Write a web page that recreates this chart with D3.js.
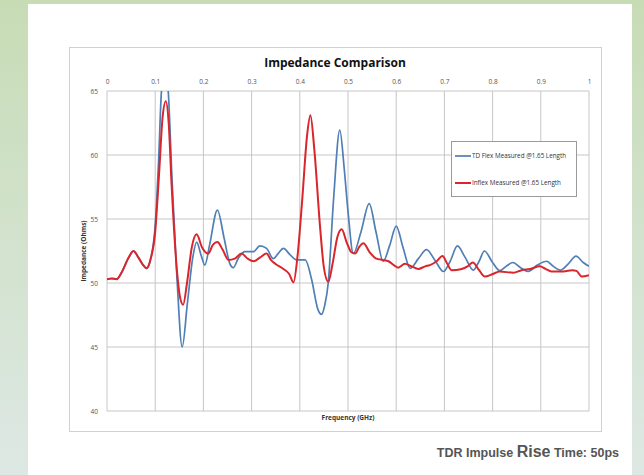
<!DOCTYPE html>
<meta charset="utf-8">
<head>
	<title>Impedance Comparison</title>
</head>
<style>
	body { margin: 0; background: #fff; }
	svg { display: block; }
	text { font-family: "Open Sans", "Liberation Sans", sans-serif; }
</style>
<body>
	<svg width="644" height="475"></svg>

	<script src="https://d3js.org/d3.v7.min.js"></script>
	<script>
// x tick labels (GHz) and y tick values (Ohms)
var xTicks = [0, 0.1, 0.2, 0.3, 0.4, 0.5, 0.6, 0.7, 0.8, 0.9, 1];
var yTicks = [40, 45, 50, 55, 60, 65];

// TD Flex measured trace
var blueFreq = [0.000, 0.010, 0.020, 0.030, 0.045, 0.055, 0.065, 0.075, 0.082, 0.090,
	0.100, 0.107, 0.113, 0.120, 0.127, 0.135, 0.145, 0.156, 0.167, 0.178,
	0.186, 0.195, 0.203, 0.213, 0.229, 0.243, 0.255, 0.262, 0.272, 0.286,
	0.304, 0.317, 0.331, 0.345, 0.355, 0.366, 0.380, 0.393, 0.411, 0.425,
	0.437, 0.445, 0.452, 0.459, 0.470, 0.483, 0.492, 0.500, 0.511, 0.527,
	0.544, 0.558, 0.573, 0.587, 0.600, 0.614, 0.629, 0.646, 0.663, 0.680,
	0.698, 0.712, 0.727, 0.743, 0.760, 0.772, 0.783, 0.800, 0.815, 0.828,
	0.842, 0.858, 0.874, 0.893, 0.912, 0.926, 0.940, 0.957, 0.973, 0.988, 1.000];
var blueZ = [50.3, 50.35, 50.3, 50.8, 52.0, 52.5, 52.0, 51.4, 51.15, 51.8,
	54.5, 59.5, 65.0, 66.8, 65.0, 58.0, 50.5, 45.0, 48.5, 52.0,
	53.2, 52.2, 51.4, 53.0, 55.7, 53.5, 51.5, 51.2, 51.9, 52.45,
	52.45, 52.9, 52.7, 51.9, 52.3, 52.7, 52.2, 51.8, 51.8, 50.2,
	48.0, 47.55, 48.3, 50.0, 56.5, 61.95, 59.0, 55.6, 52.3, 54.0,
	56.2, 54.0, 51.7, 53.0, 54.45, 52.8, 51.15, 51.9, 52.6, 51.8,
	50.9, 51.7, 52.9, 52.0, 51.0, 51.7, 52.5, 51.6, 50.96, 51.3,
	51.6, 51.2, 50.9, 51.4, 51.7, 51.3, 51.0, 51.5, 52.1, 51.6, 51.3];

// Inflex measured trace
var redFreq = [0.000, 0.010, 0.020, 0.030, 0.045, 0.055, 0.065, 0.075, 0.082, 0.090,
	0.100, 0.108, 0.115, 0.122, 0.128, 0.134, 0.145, 0.152, 0.158, 0.166,
	0.176, 0.186, 0.197, 0.210, 0.220, 0.229, 0.240, 0.252, 0.265, 0.279,
	0.292, 0.304, 0.318, 0.331, 0.340, 0.349, 0.366, 0.378, 0.387, 0.395,
	0.405, 0.415, 0.422, 0.430, 0.442, 0.450, 0.459, 0.468, 0.478, 0.487,
	0.497, 0.507, 0.515, 0.523, 0.532, 0.545, 0.559, 0.572, 0.584, 0.595,
	0.604, 0.618, 0.632, 0.646, 0.660, 0.670, 0.684, 0.696, 0.706, 0.715,
	0.736, 0.748, 0.759, 0.772, 0.784, 0.800, 0.815, 0.843, 0.860, 0.878,
	0.898, 0.910, 0.922, 0.947, 0.965, 0.974, 0.985, 1.000];
var redZ = [50.3, 50.35, 50.3, 50.8, 52.0, 52.5, 52.0, 51.4, 51.15, 51.8,
	54.0, 58.5, 62.8, 64.2, 62.5, 57.7, 51.0, 48.8, 48.3, 50.0,
	52.8, 53.8, 52.8, 52.3, 53.0, 53.2, 52.6, 51.8, 51.9, 52.3,
	51.9, 51.7, 52.0, 52.3, 51.8, 51.5, 51.1, 50.7, 50.05, 52.0,
	56.5, 61.5, 63.1, 60.5, 54.4, 51.2, 50.1, 51.5, 53.6, 54.2,
	53.2, 52.4, 52.3, 52.8, 53.1, 52.4, 51.9, 51.8, 51.7, 51.4,
	51.2, 51.5, 51.3, 51.1, 51.3, 51.4, 51.7, 52.1, 51.5, 51.0,
	51.1, 51.3, 51.6, 51.0, 50.5, 50.7, 50.9, 50.8, 51.0, 51.1,
	51.3, 51.1, 50.9, 50.9, 51.0, 50.95, 50.5, 50.6];

var seriesNames = ["TD Flex Measured @1.65 Length", "Inflex Measured @1.65 Length"];
var seriesColors = ["#4f7fb4", "#d9252b"];

var svg = d3.select('svg');

// slide background
var defs = svg.append('defs');
var lg = defs.append('linearGradient').attr('id', 'side').attr('x1', 0).attr('y1', 0).attr('x2', 0).attr('y2', 1);
lg.append('stop').attr('offset', 0).attr('stop-color', '#c7dcb5');
lg.append('stop').attr('offset', 1).attr('stop-color', '#dde8e4');
svg.append('rect').attr('width', 644).attr('height', 475).attr('fill', 'url(#side)');
svg.append('rect').attr('x', 28).attr('y', 4).attr('width', 604).attr('height', 471).attr('fill', '#fff');

// chart frame
svg.append('rect')
	.attr('x', 69.5).attr('y', 47.5).attr('width', 532).attr('height', 384)
	.attr('fill', '#fff').attr('stroke', '#d0d0d0');

var x = d3.scaleLinear().domain([0, 1]).range([107, 589]);
var y = d3.scaleLinear().domain([40, 65]).range([411, 91]);

// grid
svg.append('g').selectAll('line').data(xTicks).enter().append('line')
	.attr('x1', function(d) {return x(d);}).attr('x2', function(d) {return x(d);})
	.attr('y1', y(65)).attr('y2', y(40))
	.attr('stroke', '#c6c6c6').attr('stroke-width', 1);
svg.append('g').selectAll('line').data(yTicks).enter().append('line')
	.attr('x1', x(0)).attr('x2', x(1))
	.attr('y1', function(d) {return y(d);}).attr('y2', function(d) {return y(d);})
	.attr('stroke', '#c6c6c6').attr('stroke-width', 1);

// axes (labels only)
var xAxis = svg.append('g').attr('transform', 'translate(0,' + y(65) + ')')
	.call(d3.axisTop(x).tickValues(xTicks).tickSize(0).tickPadding(7).tickFormat(d3.format('')));
var yAxis = svg.append('g').attr('transform', 'translate(' + x(0) + ',0)')
	.call(d3.axisLeft(y).tickValues(yTicks).tickSize(0).tickPadding(9));
[xAxis, yAxis].forEach(function(a) {
	a.select('.domain').remove();
	a.selectAll('text').attr('fill', '#555').style('font-size', '6.5px')
		.style('font-family', '"Open Sans", sans-serif');
});

// clip to plot area
defs.append('clipPath').attr('id', 'plot').append('rect')
	.attr('x', x(0)).attr('y', y(65)).attr('width', x(1) - x(0)).attr('height', y(40) - y(65));

var line = d3.line()
	.x(function(d) {return x(d[0]);})
	.y(function(d) {return y(d[1]);})
	.curve(d3.curveMonotoneX);

var blue = blueFreq.map(function(f, i) {return [f, blueZ[i]];});
var red = redFreq.map(function(f, i) {return [f, redZ[i]];});

var plot = svg.append('g').attr('clip-path', 'url(#plot)');
plot.append('path').datum(blue).attr('d', line)
	.attr('fill', 'none').attr('stroke', seriesColors[0]).attr('stroke-width', 1.7);
plot.append('path').datum(red).attr('d', line)
	.attr('fill', 'none').attr('stroke', seriesColors[1]).attr('stroke-width', 2);

// titles
svg.append('text').attr('x', 335).attr('y', 67).attr('text-anchor', 'middle')
	.style('font-size', '12px').style('font-weight', 'bold').attr('fill', '#111')
	.text('Impedance Comparison');
svg.append('text').attr('x', 348).attr('y', 420).attr('text-anchor', 'middle')
	.style('font-size', '6.5px').style('font-weight', 'bold').attr('fill', '#333')
	.text('Frequency (GHz)');
svg.append('text').attr('transform', 'translate(86,251) rotate(-90)').attr('text-anchor', 'middle')
	.style('font-size', '6.5px').style('font-weight', 'bold').attr('fill', '#333')
	.text('Impedance (Ohms)');

// legend
svg.append('rect').attr('x', 451.5).attr('y', 141.5).attr('width', 125).attr('height', 55)
	.attr('fill', '#fff').attr('stroke', '#9a9a9a');
var leg = svg.append('g').selectAll('g').data(seriesNames).enter().append('g')
	.attr('transform', function(d, i) {return 'translate(455,' + (156 + i * 27) + ')';});
leg.append('line').attr('x1', 0).attr('x2', 16)
	.attr('stroke', function(d, i) {return seriesColors[i];})
	.attr('stroke-width', function(d, i) {return i ? 2 : 1.7;});
leg.append('text').attr('x', 17).attr('dy', '0.35em')
	.style('font-size', '6.3px').attr('fill', '#333')
	.text(function(d) {return d;});

// caption
var cap = svg.append('text').attr('x', 619).attr('y', 457).attr('text-anchor', 'end')
	.style('font-family', '"Liberation Sans", Arial, sans-serif').attr('fill', '#555')
	.style('font-size', '12.5px').style('font-weight', 'bold');
cap.append('tspan').text('TDR Impulse ');
cap.append('tspan').style('font-size', '16px').text('Rise');
cap.append('tspan').text(' Time: 50ps');
	</script>
</body>
</html>
